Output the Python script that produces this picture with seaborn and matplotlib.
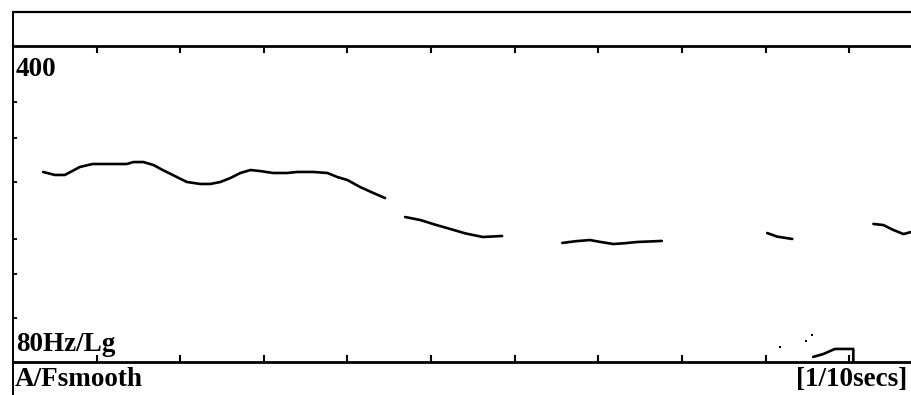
import numpy as np
import pandas as pd
import matplotlib
matplotlib.use("Agg")
import matplotlib.pyplot as plt
from matplotlib.lines import Line2D
import seaborn as sns

# Pitch contour (time in s, F0 in Hz), one list pair per voiced stretch
seg1_t = [0.036, 0.050, 0.062, 0.080, 0.095, 0.116, 0.136, 0.144, 0.156, 0.168,
          0.179, 0.196, 0.208, 0.224, 0.236, 0.248, 0.260, 0.272, 0.284, 0.296,
          0.311, 0.328, 0.340, 0.359, 0.376, 0.388, 0.400, 0.415, 0.431, 0.445]
seg1_f = [210.6, 207.4, 207.4, 216.0, 219.3, 219.3, 219.3, 221.5, 221.5, 218.2,
          212.7, 205.2, 200.1, 198.1, 198.1, 200.1, 204.2, 209.5, 212.7, 211.5,
          209.5, 209.5, 210.6, 210.6, 209.5, 205.2, 202.1, 195.1, 189.2, 184.4]
seg2_t = [0.469, 0.487, 0.505, 0.523, 0.541, 0.562, 0.585]
seg2_f = [167.4, 164.9, 161.0, 157.5, 154.0, 151.2, 152.0]
seg3_t = [0.657, 0.673, 0.690, 0.702, 0.718, 0.732, 0.746, 0.776]
seg3_f = [146.7, 148.0, 148.9, 147.5, 145.9, 146.5, 147.4, 148.2]
seg4_t = [0.902, 0.914, 0.932]
seg4_f = [154.3, 151.5, 149.7]
seg5_t = [1.029, 1.041, 1.053, 1.065, 1.074]
seg5_f = [161.6, 160.7, 156.7, 153.5, 155.1]
blip_t = [0.957, 0.969, 0.983, 1.005, 1.005]
blip_f = [82.1, 83.3, 85.5, 85.5, 80.0]
dot_t = [0.9175, 0.9486, 0.9557]
dot_f = [86.4, 89.0, 91.8]

x_ticks = [0.1, 0.2, 0.3, 0.4, 0.5, 0.6, 0.7, 0.8, 0.9, 1.0]
y_ticks = [100, 125, 150, 200, 250, 300]
y_min, y_max = 80, 400
x_max = 1.074

segments = [(seg1_t, seg1_f), (seg2_t, seg2_f), (seg3_t, seg3_f),
            (seg4_t, seg4_f), (seg5_t, seg5_f), (blip_t, blip_f)]
frames = []
for i, (t, f) in enumerate(segments):
    frames.append(pd.DataFrame({"t": t, "f": f, "seg": i}))
df = pd.concat(frames, ignore_index=True)

sns.set_style("white")
plt.rcParams["font.family"] = ["Liberation Serif", "DejaVu Serif"]
plt.rcParams["text.color"] = "black"

W, H = 911, 395
fig = plt.figure(figsize=(W / 100, H / 100), dpi=100)

# main pitch panel
x0, y_top, y_bot = 13, 46, 362
ax = fig.add_axes([x0 / W, (H - y_bot) / H, (W - x0) / W, (y_bot - y_top) / H])
sns.lineplot(data=df, x="t", y="f", units="seg", estimator=None, sort=False,
             color="black", linewidth=1.9, ax=ax, legend=False)
ax.scatter(dot_t, dot_f, s=3, color="black", marker="s", linewidths=0)

ax.set_yscale("log")
ax.set_xlim(0, x_max)
ax.set_ylim(y_min, y_max)
ax.set_xticks(x_ticks)
ax.set_yticks(y_ticks)
ax.yaxis.set_minor_locator(matplotlib.ticker.NullLocator())
ax.xaxis.set_minor_locator(matplotlib.ticker.NullLocator())
ax.tick_params(axis="x", which="both", direction="in", length=5, width=1.5,
               top=True, bottom=True, labelbottom=False, labeltop=False, color="black")
ax.tick_params(axis="y", which="both", direction="in", length=3, width=1.3,
               left=True, right=False, labelleft=False, color="black")
ax.set_xlabel("")
ax.set_ylabel("")
for side in ["top", "bottom"]:
    ax.spines[side].set_linewidth(2.0)
    ax.spines[side].set_color("black")
ax.spines["left"].set_visible(False)
ax.spines["right"].set_visible(False)

ax.text(0.003, 0.925, "400", transform=ax.transAxes, fontsize=19.5, fontweight="bold",
        va="center", ha="left", color="black")
ax.text(0.003, 0.055, "80Hz/Lg", transform=ax.transAxes, fontsize=19.5,
        fontweight="bold", va="center", ha="left", color="black")

# figure-level frame lines: top border and the long left edge
fig.add_artist(Line2D([x0 / W, 1.0], [(H - 12) / H, (H - 12) / H],
                      color="black", linewidth=1.6, transform=fig.transFigure))
fig.add_artist(Line2D([x0 / W, x0 / W], [(H - 12) / H, 0.0],
                      color="black", linewidth=1.4, transform=fig.transFigure))

fig.text(15 / W, (H - 380) / H, "A/Fsmooth", fontsize=19.5, fontweight="bold",
         va="center", ha="left", color="black")
fig.text(907 / W, (H - 380) / H, "[1/10secs]", fontsize=19.5, fontweight="bold",
         va="center", ha="right", color="black")

fig.savefig("out.png", dpi=100, facecolor="white")
